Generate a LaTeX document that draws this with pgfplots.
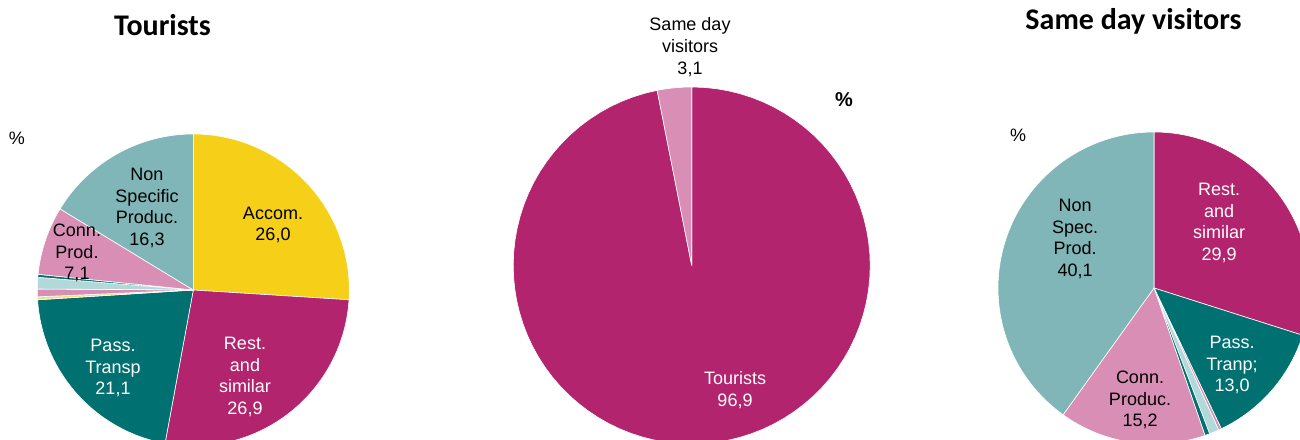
\documentclass[border=0pt]{standalone}
\usepackage{pgfplots}
\pgfplotsset{compat=1.18}
\usepackage{fontspec}
\setmainfont{Liberation Sans}
\newfontfamily\titlefont{Carlito}

\definecolor{cYel}{HTML}{F6D018}
\definecolor{cMag}{HTML}{B3246E}
\definecolor{cTeal}{HTML}{007170}
\definecolor{cLTeal}{HTML}{80B6B8}
\definecolor{cPink}{HTML}{D98FB5}
\definecolor{cLBlue}{HTML}{B2D9D9}
\definecolor{cLYel}{HTML}{F4E17E}

\pgfplotsset{pie/.style={hide axis, scale only axis, xmin=-1, xmax=1, ymin=-1, ymax=1,
  anchor=center, clip=false}}

% one slice: #1 = value in %, #2 = colour; slices run clockwise from 12 o'clock
\newcommand\slice[2]{%
  \pgfmathsetmacro\sa{90-3.6*(\cum+#1)}%
  \pgfmathsetmacro\sb{90-3.6*\cum}%
  \edef\doslice{\noexpand\addplot[fill=#2, draw=white, line width=0.3pt,
    domain=\sa:\sb, samples=90, variable=\noexpand\t]
    ({cos(\noexpand\t)},{sin(\noexpand\t)}) -- (0,0) -- cycle;}%
  \doslice
  \pgfmathsetmacro\newcum{\cum+#1}%
  \xdef\cum{\newcum}%
}

\begin{document}
\begin{tikzpicture}[x=0.5pt, y=0.5pt]
\useasboundingbox (0,0) rectangle (1300,439);
\clip (0,0) rectangle (1300,439);

% ---------- Tourists ----------
\begin{axis}[pie, at={(96.65pt,74.5pt)}, width=156pt, height=156pt]
\gdef\cum{0}
\slice{26.0}{cYel}
\slice{26.9}{cMag}
\slice{21.1}{cTeal}
\slice{0.3}{cLYel}
\slice{0.8}{cPink}
\slice{1.2}{cLBlue}
\slice{0.3}{cTeal}
\slice{7.1}{cPink}
\slice{16.3}{cLTeal}
\end{axis}

% ---------- Total ----------
\begin{axis}[pie, at={(345.85pt,86.75pt)}, width=178.5pt, height=178.5pt]
\gdef\cum{0}
\slice{96.9}{cMag}
\slice{3.1}{cPink}
\end{axis}

% ---------- Same day visitors ----------
\begin{axis}[pie, at={(577pt,75.5pt)}, width=156pt, height=156pt]
\gdef\cum{0}
\slice{29.9}{cMag}
\slice{13.0}{cTeal}
\slice{0.3}{cPink}
\slice{1.0}{cLBlue}
\slice{0.5}{cTeal}
\slice{15.2}{cPink}
\slice{40.1}{cLTeal}
\end{axis}

% ---------- texts ----------
\tikzset{lab/.style={align=center, inner sep=0pt, font=\fontsize{9}{10.85}\selectfont}}
\node[anchor=base, font=\titlefont\bfseries\fontsize{15}{18}\selectfont] at (162.5,403) {Tourists};
\node[anchor=base, font=\titlefont\bfseries\fontsize{15}{18}\selectfont] at (1133.5,409.7) {Same day visitors};

\node[lab] at (17,301) {\%};
\node[lab] at (1018,304) {\%};
\node[lab, font=\bfseries\fontsize{10}{12}\selectfont] at (844,339) {\%};

\node[lab, text=black] at (147,231) {Non\\Specific\\Produc.\\16,3};
\node[lab, text=black] at (77,186) {Conn.\\Prod.\\7,1};
\node[lab, text=black] at (273,214) {Accom.\\26,0};
\node[lab, text=white] at (113,71) {Pass.\\Transp\\21,1};
\node[lab, text=white] at (245,62) {Rest.\\and\\similar\\26,9};

\node[lab, text=black] at (690,392) {Same day\\visitors\\3,1};
\node[lab, text=white] at (735,49) {Tourists\\96,9};

\node[lab, text=black] at (1075,200) {Non\\Spec.\\Prod.\\40,1};
\node[lab, text=white] at (1219,216) {Rest.\\and\\similar\\29,9};
\node[lab, text=white] at (1232,74) {Pass.\\Tranp;\\13,0};
\node[lab, text=black] at (1140,39) {Conn.\\Produc.\\15,2};
\end{tikzpicture}
\end{document}
